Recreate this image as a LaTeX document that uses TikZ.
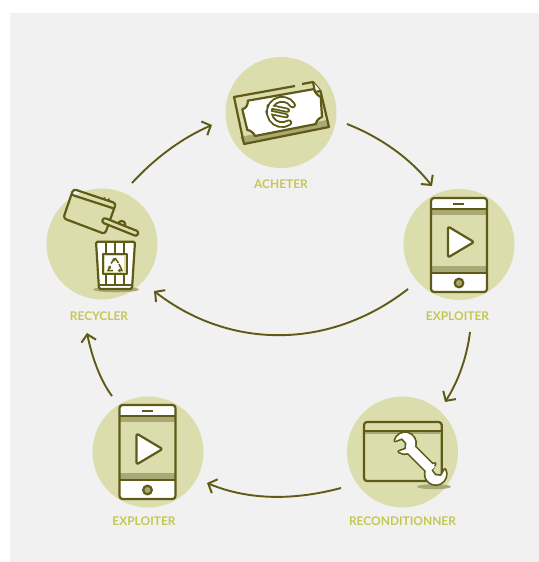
\documentclass[tikz,border=0pt]{standalone}
\usepackage{fontspec}
\setmainfont{Lato}
\usetikzlibrary{arrows.meta}
\definecolor{bgc}{HTML}{F1F1F1}
\definecolor{disc}{HTML}{DCDDAD}
\definecolor{ink}{HTML}{5F5B16}
\definecolor{lab}{HTML}{C3C852}
\definecolor{band}{HTML}{A8A974}
\newcommand{\wrenchhead}{(8.5,5.8) arc[start angle=34,end angle=326,radius=10.3] -- (1,-5.8) -- (-1.5,0) -- (1,5.8) -- cycle}
\newcommand{\noteshape}{(242.3,109.3) .. controls (247,108) and (248,104) .. (247.7,100.7) -- (314.3,89)
  .. controls (315,93) and (318,96) .. (320.7,96.7) -- (322,117) .. controls (319,118) and (316,121) .. (316,124)
  -- (255,136) .. controls (254,133) and (250,130) .. (247.3,130) -- cycle}
\tikzset{
  x=1bp,y=-1bp,
  disc/.style={circle,fill=disc,draw=none,minimum size=111bp,inner sep=0pt},
  lbl/.style={text=lab,font=\fontsize{12}{13}\selectfont\bfseries,inner sep=0pt},
  flow/.style={draw=ink,line width=1.9bp,-{Straight Barb[length=7bp,width=15bp,line width=2bp]}},
  ic/.style={draw=ink,line width=2.2bp,line join=round},
  phone/.pic={
    \fill[white,rounded corners=3bp] (-28,-47) rectangle (28,47);
    \fill[disc] (-28,-36) rectangle (28,27);
    \fill[band] (-28,-36) rectangle (28,-30);
    \fill[band] (-28,21) rectangle (28,27);
    \draw[ic] (-28,-36) -- (28,-36) (-28,28) -- (28,28);
    \draw[ic,rounded corners=3bp] (-28,-47) rectangle (28,47);
    \draw[ic] (-6,-41) -- (5,-41);
    \draw[ic,fill=band] (0,38) circle (4.3);
    \draw[ic,fill=white,rounded corners=2bp] (-11,-18.5) -- (15,-3) -- (-11,12.5) -- cycle;
  }
}
\begin{document}
\begin{tikzpicture}
\useasboundingbox (0,0) rectangle (539,562);
\fill[bgc] (10,13) rectangle (539,562);
% discs
\node[disc] (acheter) at (281,112.5) {};
\node[disc] (recycler) at (102,244) {};
\node[disc] (exploiterA) at (459,244.5) {};
\node[disc] (recond) at (402.5,452) {};
\node[disc] (exploiterB) at (148,452) {};
% labels
\node[lbl] (tA) at (281,184) {ACHETER};
\node[lbl] (tB) at (99,316) {RECYCLER};
\node[lbl] (tC) at (457.5,316) {EXPLOITER};
\node[lbl] (tD) at (402.5,521) {RECONDITIONNER};
\node[lbl] (tE) at (144,521) {EXPLOITER};
% connector ends
\coordinate (r1) at (132,183); \coordinate (a1) at (212,125);
\coordinate (a2) at (347,124); \coordinate (e1) at (432,186);
\coordinate (e2) at (470,332); \coordinate (c1) at (445,402);
\coordinate (c2) at (341,488); \coordinate (f1) at (207,483);
\coordinate (f2) at (112,396); \coordinate (r2) at (87,333);
\coordinate (e3) at (408,289); \coordinate (r3) at (154,291);
\draw[flow] (r1) .. controls (155,158) and (182,138) .. (a1);
\draw[flow] (a2) .. controls (380,137) and (410,158) .. (e1);
\draw[flow] (e2) .. controls (467,357) and (458,382) .. (c1);
\draw[flow] (c2) .. controls (296,500) and (250,501) .. (f1);
\draw[flow] (f2) .. controls (100,380) and (92,357) .. (r2);
\draw[flow] (e3) .. controls (330,350) and (230,350) .. (r3);
% banknote
\fill[band] (240,137) -- (327,120) -- (329,127) -- (244,144) -- cycle;
\fill[white] \noteshape;
\draw[ic] \noteshape;
\draw[ic] (295,86) -- (234,97) -- (244,144) -- (329,127) -- (320.5,91) -- (313,82) -- (302,84);
\fill[white] (313,82) -- (315,92) -- (320.5,91) -- cycle;
\draw[ic] (313,82) -- (315,92) -- (320.5,91);
% euro
\begin{scope}[shift={(282,112)},rotate=-12]
  \draw[ink,line width=6.6bp,line cap=round] (9,-9) arc[start angle=-45,end angle=-315,radius=12.7];
  \draw[ink,line width=5bp,line cap=round] (-14,-2.8) -- (5,-2.8) (-14,2.8) -- (5,2.8);
  \draw[white,line width=2.8bp,line cap=round] (9,-9) arc[start angle=-45,end angle=-315,radius=12.7];
  \draw[white,line width=1.5bp] (-13.5,-2.8) -- (5,-2.8) (-13.5,2.8) -- (5,2.8);
\end{scope}
% phones
\pic at (459,245) {phone};
\pic at (147.5,452) {phone};
% tablet and lid
\draw[ic,rounded corners=3bp] (73.3,189) -- (116,203.3) -- (105,234) -- (63.3,218.3) -- cycle;
\draw[ic] (70.7,194.5) -- (114,208.5);
\draw[ic] (103.5,198) -- (105,198.5) (108,199.3) -- (109.5,199.8);
\draw[ic,fill=disc] (121.7,224.5) circle (3.6);
\draw[ic,fill=disc,rounded corners=2.4bp] (103.5,217.5) -- (138.8,231.6) -- (137,236.4) -- (101.7,222.3) -- cycle;
% bin
\fill[band] (93,289.5) arc[start angle=180,end angle=0,x radius=23,y radius=2.8] arc[start angle=0,end angle=-180,x radius=23,y radius=2.8];
\fill[white,rounded corners=1.5bp] (96,241.7) -- (135,241.7) -- (132,289) -- (99,289) -- cycle;
\foreach \xx in {106,115,124}{\fill[ink] (\xx-1,243) rectangle (\xx+1,285);}
\draw[ic,rounded corners=1.5bp] (96,241.7) -- (135,241.7) -- (132,289) -- (99,289) -- cycle;
\draw[ic] (99,285) -- (132,285);
\draw[ic,fill=disc] (102.7,254) rectangle (126.7,274.3);
\fill[white] (105,256) rectangle (124.4,272.3);
\draw[ink,line width=1.5bp,-{Stealth[length=3bp,width=4bp]}] (111,263.5) -- (115,258);
\draw[ink,line width=1.5bp] (115,258) -- (118.5,263);
\draw[ink,line width=1.5bp,-{Stealth[length=3bp,width=4bp]}] (119,264) -- (122,270.5) -- (117.5,270.5);
\draw[ink,line width=1.5bp,-{Stealth[length=3bp,width=4bp]}] (113,270.5) -- (108,270.5) -- (110.5,265.5);
% window and wrench
\draw[ic,rounded corners=3bp] (364,422) rectangle (441.7,481);
\fill[band] (365,431) rectangle (441,434);
\draw[ic] (364,431) -- (441.7,431);
\fill[band] (417,486.7) arc[start angle=180,end angle=0,x radius=17,y radius=2.5] arc[start angle=0,end angle=-180,x radius=17,y radius=2.5];
\begin{scope}[line join=round]
  \draw[ink,line width=12.4bp] (412,450.3) -- (428.7,467);
  \begin{scope}[shift={(405,443.3)},rotate=200]\draw[ink,line width=3.4bp] \wrenchhead;\end{scope}
  \begin{scope}[shift={(435.7,474)},rotate=60]\draw[ink,line width=3.4bp] \wrenchhead;\end{scope}
  \begin{scope}[shift={(405,443.3)},rotate=200]\fill[white] \wrenchhead;\end{scope}
  \begin{scope}[shift={(435.7,474)},rotate=60]\fill[white] \wrenchhead;\end{scope}
  \draw[white,line width=9.2bp] (409,447.3) -- (431.7,470);
\end{scope}
\end{tikzpicture}
\end{document}
